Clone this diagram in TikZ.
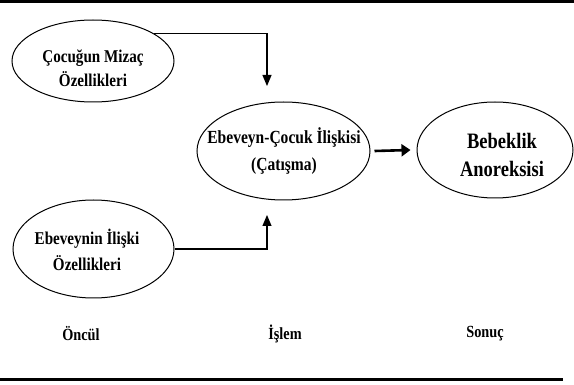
\documentclass[tikz,border=0pt]{standalone}
\usepackage{fontspec}
\setmainfont{Liberation Serif}[FakeStretch=0.84]
\usetikzlibrary{shapes.geometric,arrows.meta}
\tikzset{
  ell/.style={draw, ellipse, line width=1pt, inner sep=0pt},
  txt/.style={align=center, inner sep=0pt, font=\bfseries\fontsize{18}{24}\selectfont},
  conn/.style={line width=1.1pt, -{Triangle[length=11pt,width=9pt]}},
  bigconn/.style={line width=2.6pt, -{Triangle[length=9pt,width=12pt]}},
  lbl/.style={font=\bfseries\fontsize{17}{20}\selectfont},
  rule/.style={line width=3pt}
}
\begin{document}
\begin{tikzpicture}[x=1pt,y=-1pt]
\useasboundingbox (0,0) rectangle (574,385);
\node[ell, minimum width=162pt, minimum height=82pt] (e1) at (93,61) {};
\node[ell, minimum width=173pt, minimum height=98pt] (e2) at (283.5,151) {};
\node[ell, minimum width=156pt, minimum height=96pt] (e3) at (495,150) {};
\node[ell, minimum width=161pt, minimum height=98pt] (e4) at (93.5,249) {};
\node[txt] (e1t) at (93,68) {Çocuğun Mizaç\\Özellikleri};
\node[txt, font=\bfseries\fontsize{18.5}{27}\selectfont] (e2t) at (284,151) {Ebeveyn-Çocuk İlişkisi\\(Çatışma)};
\node[txt, font=\bfseries\fontsize{22}{28}\selectfont] (e3t) at (502,155) {Bebeklik\\Anoreksisi};
\node[txt, font=\bfseries\fontsize{18}{26}\selectfont] (e4t) at (87,250) {Ebeveynin İlişki\\Özellikleri};
\coordinate (t1) at (267,86);
\coordinate (t2) at (267,215);
\draw[conn] (e1.24) -| (t1);
\draw[conn] (e4.east) -| (t2);
\draw[bigconn] ([xshift=4pt]e2.east) -- ([xshift=-6pt]e3.west);
\node[lbl] (l1) at (81,334) {Öncül};
\node[lbl] (l2) at (285,334) {İşlem};
\node[lbl] (l3) at (485,334) {Sonuç};
\coordinate (a1) at (0,1.5);
\coordinate (a2) at (574,1.5);
\coordinate (b1) at (0,380);
\coordinate (b2) at (563,380);
\draw[rule] (a1) -- (a2);
\draw[rule] (b1) -- (b2);
\end{tikzpicture}
\end{document}
